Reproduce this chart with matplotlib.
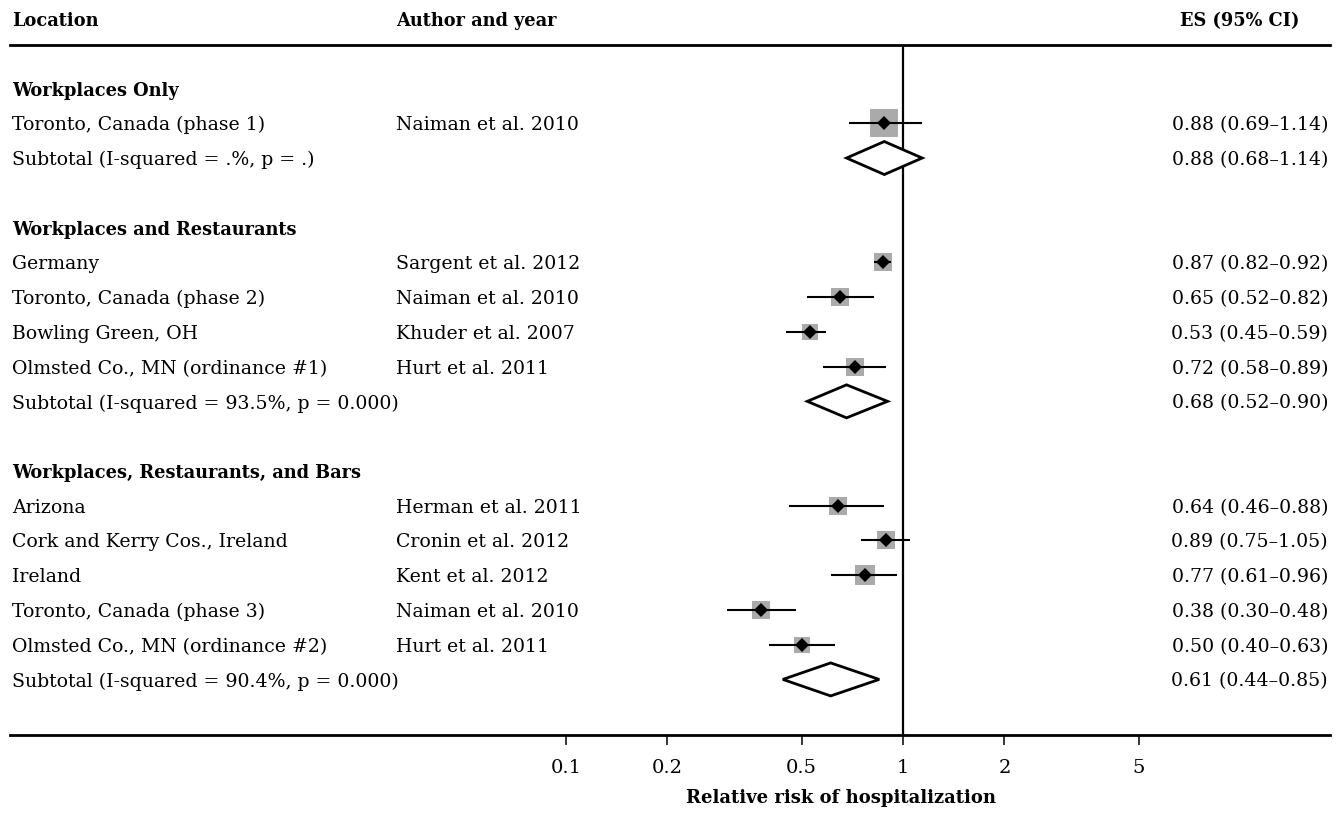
import matplotlib
matplotlib.use("Agg")
import matplotlib.pyplot as plt
import matplotlib.transforms as mtransforms
from matplotlib.patches import Polygon
import numpy as np

plt.rcParams['font.family'] = ['DejaVu Serif']

# ---- data ----
groups = ["Workplaces Only",
          "Workplaces and Restaurants",
          "Workplaces, Restaurants, and Bars"]

locations = [
    ["Toronto, Canada (phase 1)"],
    ["Germany", "Toronto, Canada (phase 2)", "Bowling Green, OH",
     "Olmsted Co., MN (ordinance #1)"],
    ["Arizona", "Cork and Kerry Cos., Ireland", "Ireland",
     "Toronto, Canada (phase 3)", "Olmsted Co., MN (ordinance #2)"],
]
authors = [
    ["Naiman et al. 2010"],
    ["Sargent et al. 2012", "Naiman et al. 2010", "Khuder et al. 2007",
     "Hurt et al. 2011"],
    ["Herman et al. 2011", "Cronin et al. 2012", "Kent et al. 2012",
     "Naiman et al. 2010", "Hurt et al. 2011"],
]
es = [[0.88], [0.87, 0.65, 0.53, 0.72], [0.64, 0.89, 0.77, 0.38, 0.50]]
lo = [[0.69], [0.82, 0.52, 0.45, 0.58], [0.46, 0.75, 0.61, 0.30, 0.40]]
hi = [[1.14], [0.92, 0.82, 0.59, 0.89], [0.88, 1.05, 0.96, 0.48, 0.63]]
weights = [[22.2], [9.2, 9.2, 7.2, 9.2], [8.2, 9.2, 11.3, 8.2, 6.4]]

sub_labels = ["Subtotal (I-squared = .%, p = .)",
              "Subtotal (I-squared = 93.5%, p = 0.000)",
              "Subtotal (I-squared = 90.4%, p = 0.000)"]
sub_es = [0.88, 0.68, 0.61]
sub_lo = [0.68, 0.52, 0.44]
sub_hi = [1.14, 0.90, 0.85]

ticks = [0.1, 0.2, 0.5, 1, 2, 5]
tick_labels = ["0.1", "0.2", "0.5", "1", "2", "5"]

# ---- layout ----
W, H = 1341, 813
fig = plt.figure(figsize=(W / 100, H / 100), dpi=100)
left_px, right_px, top_px, bot_px = 10, 1330, 45, 735
ax = fig.add_axes([left_px / W, 1 - bot_px / H,
                   (right_px - left_px) / W, (bot_px - top_px) / H])
ax.set_xscale('log')
dec = 337.0
x_one = 903.0
ax.set_xlim(10 ** ((left_px - x_one) / dec), 10 ** ((right_px - x_one) / dec))

row0, step = 88.5, 34.76
ax.set_ylim((bot_px - row0) / step, (top_px - row0) / step)

for s in ['left', 'right']:
    ax.spines[s].set_visible(False)
for s in ['top', 'bottom']:
    ax.spines[s].set_linewidth(2.0)
ax.set_yticks([])
ax.set_xticks(ticks)
ax.set_xticklabels(tick_labels)
ax.xaxis.set_minor_locator(matplotlib.ticker.NullLocator())
ax.tick_params(axis='x', length=7.5, width=1.1, pad=10, labelsize=14)
ax.set_xlabel("Relative risk of hospitalization", fontsize=13,
              fontweight='bold')
ax.xaxis.set_label_coords((841 - left_px) / (right_px - left_px), -0.078)

ax.axvline(1, color='black', lw=1.6, zorder=1)

tr = mtransforms.blended_transform_factory(fig.transFigure, ax.transData)
x_loc, x_auth, x_es = 12 / W, 396 / W, 1328 / W
fs = 13.6
fsb = 12.8
dy = 0.06  # text sits a touch below the marks

hdr_y = (21 - row0) / step
for x, t, ha in [(x_loc, "Location", 'left'), (x_auth, "Author and year", 'left'),
                 (1300 / W, "ES (95% CI)", 'right')]:
    ax.text(x, hdr_y, t, transform=tr, ha=ha, va='center', fontsize=fsb,
            fontweight='bold', clip_on=False)

px_per_pt = 100 / 72.0
row = 0
for g in range(len(groups)):
    ax.text(x_loc, row + dy, groups[g], transform=tr, ha='left', va='center',
            fontsize=fsb, fontweight='bold')
    row += 1
    for i in range(len(es[g])):
        ax.text(x_loc, row + dy, locations[g][i], transform=tr, ha='left',
                va='center', fontsize=fs)
        ax.text(x_auth, row + dy, authors[g][i], transform=tr, ha='left',
                va='center', fontsize=fs)
        ax.text(x_es, row + dy, "%.2f (%.2f\u2013%.2f)" % (es[g][i], lo[g][i], hi[g][i]),
                transform=tr, ha='right', va='center', fontsize=fs)
        side_px = 5.94 * np.sqrt(weights[g][i])
        ax.plot([es[g][i]], [row], marker='s', linestyle='none',
                markersize=side_px / px_per_pt, color='#aaaaaa',
                markeredgewidth=0, zorder=2)
        ax.plot([lo[g][i], hi[g][i]], [row, row], color='black', lw=1.5,
                zorder=3, solid_capstyle='butt')
        ax.plot([es[g][i]], [row], marker='D', linestyle='none',
                markersize=7.2, color='black', markeredgewidth=0, zorder=4)
        row += 1
    ax.text(x_loc, row + dy, sub_labels[g], transform=tr, ha='left', va='center',
            fontsize=fs)
    ax.text(x_es, row + dy, "%.2f (%.2f\u2013%.2f)" % (sub_es[g], sub_lo[g], sub_hi[g]),
            transform=tr, ha='right', va='center', fontsize=fs)
    h = 0.475
    dia = Polygon([(sub_lo[g], row), (sub_es[g], row - h),
                   (sub_hi[g], row), (sub_es[g], row + h)],
                  closed=True, facecolor='white', edgecolor='black', lw=2.0,
                  zorder=3)
    ax.add_patch(dia)
    row += 2

fig.savefig("out.png", dpi=100)
